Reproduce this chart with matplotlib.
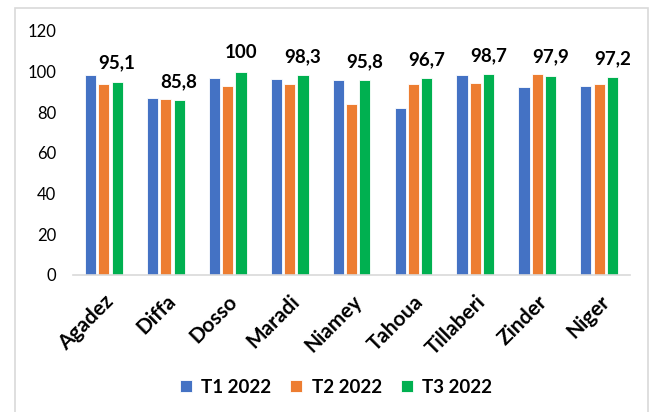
import numpy as np
import matplotlib
matplotlib.use("Agg")
import matplotlib.pyplot as plt
from matplotlib.patches import Rectangle

# Data
regions = ['Agadez', 'Diffa', 'Dosso', 'Maradi', 'Niamey', 'Tahoua', 'Tillaberi', 'Zinder', 'Niger']
t1_2022 = [98.4, 87.2, 96.6, 96.1, 95.8, 82.0, 98.4, 92.3, 92.8]
t2_2022 = [93.8, 86.4, 93.0, 93.8, 84.0, 93.8, 94.3, 98.9, 93.8]
t3_2022 = [95.1, 85.8, 100, 98.3, 95.8, 96.7, 98.7, 97.9, 97.2]
t3_labels = ['95,1', '85,8', '100', '98,3', '95,8', '96,7', '98,7', '97,9', '97,2']

series = ['T1 2022', 'T2 2022', 'T3 2022']
colors = ['#4472C4', '#ED7D31', '#00B050']

plt.rcParams['font.family'] = ['Lato', 'DejaVu Sans']

fig = plt.figure(figsize=(6.51, 4.12), dpi=100)
ax = fig.add_axes([0.112, 0.333, 0.856, 0.592])

x = np.arange(len(regions))
w = 0.18
step = 0.215
for i, (vals, c, name) in enumerate(zip([t1_2022, t2_2022, t3_2022], colors, series)):
    ax.bar(x + (i - 1) * step, vals, width=w, color=c, edgecolor='white',
           linewidth=0.6, label=name, zorder=2)

# value labels above the T3 bars
for xi, v, lab in zip(x, t3_2022, t3_labels):
    ax.text(xi + step, v + 5, lab, ha='center', va='bottom',
            fontsize=13.5, fontweight='bold', color='black')

ax.set_ylim(0, 120)
ax.set_xlim(-0.5, len(regions) - 0.5)
ax.set_yticks(range(0, 121, 20))
ax.tick_params(axis='y', length=0, labelsize=12, pad=12)
ax.tick_params(axis='x', length=0, pad=12)
ax.set_xticks(x)
ax.set_xticklabels(regions, rotation=45, ha='right', rotation_mode='anchor',
                   fontsize=15, fontweight='bold')

for s in ['top', 'right', 'left']:
    ax.spines[s].set_visible(False)
ax.spines['bottom'].set_color('#D9D9D9')
ax.spines['bottom'].set_linewidth(1.2)

fig.legend(loc='center', bbox_to_anchor=(0.516, 0.06), ncol=3, frameon=False,
           prop={'weight': 'bold', 'size': 13.5}, handlelength=0.65,
           handleheight=0.65, handletextpad=0.5, columnspacing=1.0)

# outer chart border
fig.patches.append(Rectangle((0.023, -0.02), 0.972, 1.0, transform=fig.transFigure,
                             fill=False, edgecolor='#D9D9D9', linewidth=1.2))

fig.savefig('out.png', dpi=100)
